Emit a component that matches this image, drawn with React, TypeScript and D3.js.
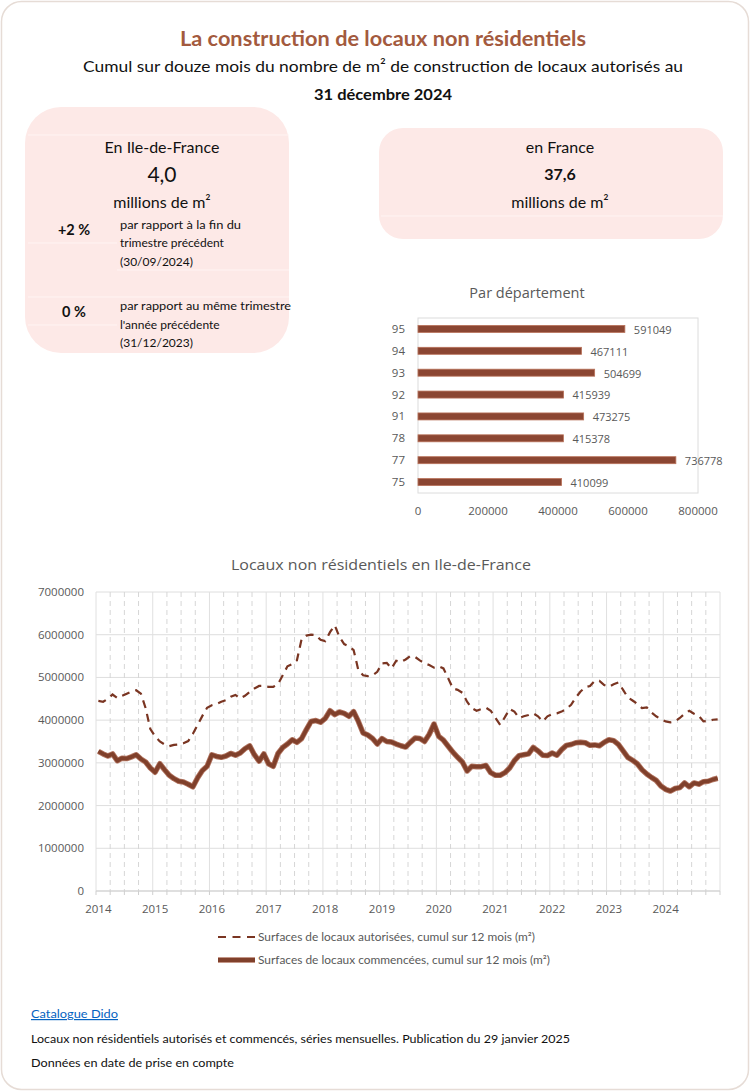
import React from 'react';
import * as d3 from 'd3';

// Page size
const W = 750;
const H = 1091;

// Bar chart: surfaces by département
const departements = ['95', '94', '93', '92', '91', '78', '77', '75'];
const surfacesDept = [591049, 467111, 504699, 415939, 473275, 415378, 736778, 410099];
const barTicks = [0, 200000, 400000, 600000, 800000];

// Line chart: monthly values, Jan 2014 - Dec 2024, in millions of m²
const annees = ['2014', '2015', '2016', '2017', '2018', '2019', '2020', '2021', '2022', '2023', '2024'];
const autorisees = [
  4.45, 4.43, 4.50, 4.60, 4.52, 4.57, 4.62, 4.67, 4.70, 4.62, 4.28, 3.79, // 2014
  3.62, 3.50, 3.43, 3.39, 3.42, 3.43, 3.46, 3.51, 3.68, 3.89, 4.10, 4.29, // 2015
  4.35, 4.38, 4.43, 4.47, 4.55, 4.59, 4.51, 4.57, 4.66, 4.74, 4.80, 4.80, // 2016
  4.78, 4.78, 4.84, 5.05, 5.26, 5.31, 5.40, 5.90, 5.98, 6.00, 5.99, 5.88, // 2017
  5.85, 6.06, 6.22, 5.95, 5.78, 5.73, 5.64, 5.17, 5.05, 5.03, 5.05, 5.13, // 2018
  5.33, 5.34, 5.21, 5.39, 5.36, 5.42, 5.50, 5.48, 5.40, 5.33, 5.29, 5.23, // 2019
  5.26, 5.21, 4.98, 4.74, 4.71, 4.64, 4.43, 4.28, 4.22, 4.26, 4.29, 4.22, // 2020
  4.05, 3.89, 4.07, 4.26, 4.20, 4.05, 4.09, 4.12, 4.16, 4.09, 3.97, 4.09, // 2021
  4.14, 4.16, 4.20, 4.26, 4.36, 4.53, 4.67, 4.77, 4.80, 4.92, 4.92, 4.82, // 2022
  4.78, 4.84, 4.88, 4.71, 4.53, 4.46, 4.38, 4.28, 4.30, 4.18, 4.09, 4.02, // 2023
  3.97, 3.95, 3.97, 4.05, 4.15, 4.22, 4.15, 4.10, 3.97, 3.98, 4.01, 4.02, // 2024
];
const commencees = [
  3.27, 3.21, 3.16, 3.21, 3.05, 3.11, 3.10, 3.14, 3.19, 3.09, 3.02, 2.88, // 2014
  2.78, 2.98, 2.84, 2.71, 2.63, 2.57, 2.55, 2.50, 2.44, 2.65, 2.82, 2.92, // 2015
  3.19, 3.15, 3.13, 3.16, 3.22, 3.18, 3.23, 3.33, 3.40, 3.19, 3.04, 3.21, // 2016
  2.98, 2.92, 3.22, 3.36, 3.44, 3.54, 3.48, 3.57, 3.78, 3.97, 3.99, 3.95, // 2017
  4.04, 4.22, 4.13, 4.19, 4.16, 4.09, 4.20, 3.97, 3.70, 3.65, 3.57, 3.44, // 2018
  3.57, 3.50, 3.49, 3.44, 3.40, 3.37, 3.48, 3.58, 3.57, 3.50, 3.67, 3.91, // 2019
  3.62, 3.53, 3.39, 3.25, 3.13, 3.02, 2.81, 2.92, 2.91, 2.91, 2.94, 2.77, // 2020
  2.71, 2.71, 2.77, 2.88, 3.05, 3.17, 3.19, 3.21, 3.36, 3.28, 3.18, 3.17, // 2021
  3.23, 3.18, 3.31, 3.41, 3.43, 3.47, 3.48, 3.47, 3.41, 3.42, 3.40, 3.48, // 2022
  3.54, 3.52, 3.43, 3.28, 3.13, 3.06, 2.98, 2.84, 2.74, 2.66, 2.59, 2.46, // 2023
  2.38, 2.34, 2.40, 2.42, 2.53, 2.44, 2.53, 2.50, 2.56, 2.57, 2.61, 2.64, // 2024
];
const lineTicks = [0, 1000000, 2000000, 3000000, 4000000, 5000000, 6000000, 7000000];

const BROWN = '#a35a3e';
const GREY = '#595959';
const PINK = '#fde9e7';
const HEAD_FONT = 'Lato, "Liberation Sans", sans-serif';
const CHART_FONT = '"Open Sans", "DejaVu Sans", sans-serif';

export default function App() {
  // bar chart scales
  const xBar = d3.scaleLinear().domain([0, 800000]).range([418, 698]);
  const yBar = d3.scaleBand<string>().domain(departements).range([318, 493])
    .paddingInner(0.68).paddingOuter(0.34);

  // line chart scales
  const nMonths = autorisees.length;
  const xLine = d3.scaleLinear().domain([0, nMonths]).range([96, 720]);
  const yLine = d3.scaleLinear().domain([0, 7000000]).range([891, 592]);
  const line = d3.line<number>()
    .x((_, i) => xLine(i + 0.5))
    .y(v => yLine(v * 1e6));

  const quarters = d3.range(0, nMonths + 1, 3);

  return (
    <div style={{ position: 'absolute', left: 0, top: 0 }}>
      <svg width={W} height={H} viewBox={`0 0 ${W} ${H}`}>
        <rect x={1.5} y={1.5} width={W - 3} height={H - 3} rx={20} fill="#fff" stroke="#e6dcd6" strokeWidth={1.5} />

        {/* header */}
        <text x={383} y={46} textAnchor="middle" fontFamily={HEAD_FONT} fontWeight="bold" fontSize={20}
          fill={BROWN} textLength={406} lengthAdjust="spacingAndGlyphs">La construction de locaux non résidentiels</text>
        <text x={383} y={72} textAnchor="middle" fontFamily={HEAD_FONT} fontSize={16} fill="#111"
          textLength={600} lengthAdjust="spacingAndGlyphs">Cumul sur douze mois du nombre de m² de construction de locaux autorisés au</text>
        <text x={383} y={100} textAnchor="middle" fontFamily={HEAD_FONT} fontWeight="bold" fontSize={16} fill="#111"
          textLength={138} lengthAdjust="spacingAndGlyphs">31 décembre 2024</text>

        {/* left card */}
        <rect x={25} y={107} width={264} height={246} rx={36} fill={PINK} />
        <g stroke="#fff4f3" strokeWidth={1}>
          <line x1={28} x2={289} y1={135} y2={135} />
          <line x1={28} x2={117} y1={243} y2={243} />
          <line x1={117} x2={289} y1={270} y2={270} />
          <line x1={28} x2={289} y1={297} y2={297} />
          <line x1={28} x2={117} y1={325} y2={325} />
        </g>
        <g fontFamily={HEAD_FONT} fill="#111">
          <text x={162} y={153} textAnchor="middle" fontSize={16}>En Ile-de-France</text>
          <text x={162} y={182} textAnchor="middle" fontSize={21}>4,0</text>
          <text x={162} y={208} textAnchor="middle" fontSize={16}>millions de m²</text>
          <text x={74} y={235} textAnchor="middle" fontSize={14.5} fontWeight="bold">+2 %</text>
          <text x={120} y={229} fontSize={12} textLength={121} lengthAdjust="spacingAndGlyphs">par rapport à la fin du</text>
          <text x={120} y={247} fontSize={12}>trimestre précédent</text>
          <text x={120} y={266} fontSize={12}>(30/09/2024)</text>
          <text x={74} y={317} textAnchor="middle" fontSize={14.5} fontWeight="bold">0 %</text>
          <text x={120} y={310} fontSize={12} textLength={171} lengthAdjust="spacingAndGlyphs">par rapport au même trimestre</text>
          <text x={120} y={329} fontSize={12}>l'année précédente</text>
          <text x={120} y={347} fontSize={12}>(31/12/2023)</text>
        </g>

        {/* right card */}
        <rect x={379} y={128} width={344} height={111} rx={24} fill={PINK} />
        <line x1={381} x2={723} y1={216} y2={216} stroke="#fff4f3" />
        <g fontFamily={HEAD_FONT} fill="#111" textAnchor="middle">
          <text x={560} y={153} fontSize={16}>en France</text>
          <text x={560} y={180} fontSize={16} fontWeight="bold">37,6</text>
          <text x={560} y={208} fontSize={16}>millions de m²</text>
        </g>

        {/* bar chart */}
        <text x={527} y={298} textAnchor="middle" fontFamily={CHART_FONT} fontSize={14.5} fill={GREY}>Par département</text>
        <rect x={418} y={318} width={280} height={175} fill="none" stroke="#dcdcdc" />
        {departements.map((d, i) => {
          const y0 = yBar(d) as number;
          return (
            <g key={d}>
              <rect x={xBar(0)} y={y0} width={xBar(surfacesDept[i]) - xBar(0)} height={yBar.bandwidth()}
                fill="#8b4632" stroke="#b9725a" strokeWidth={0.8} />
              <text x={405} y={y0 + yBar.bandwidth() / 2} dy="0.35em" textAnchor="end" fontFamily={CHART_FONT}
                fontSize={11.5} fill={GREY}>{d}</text>
              <text x={xBar(surfacesDept[i]) + 9} y={y0 + yBar.bandwidth() / 2 + 1} dy="0.35em" fontFamily={CHART_FONT}
                fontSize={11} fill={GREY}>{surfacesDept[i]}</text>
            </g>
          );
        })}
        {barTicks.map(t => (
          <text key={t} x={xBar(t)} y={511} dy="0.35em" textAnchor="middle" fontFamily={CHART_FONT}
            fontSize={11.5} fill={GREY}>{t}</text>
        ))}

        {/* line chart */}
        <text x={381} y={570} textAnchor="middle" fontFamily={CHART_FONT} fontSize={14.5} fill={GREY}
          textLength={300} lengthAdjust="spacingAndGlyphs">Locaux non résidentiels en Ile-de-France</text>
        {lineTicks.map(t => (
          <g key={t}>
            <line x1={xLine(0)} x2={xLine(nMonths)} y1={yLine(t)} y2={yLine(t)} stroke="#dedede" strokeWidth={1} />
            <text x={84} y={yLine(t)} dy="0.35em" textAnchor="end" fontFamily={CHART_FONT} fontSize={11.5} fill={GREY}>{t}</text>
          </g>
        ))}
        {quarters.map(q => (
          <g key={q}>
            <line x1={xLine(q)} x2={xLine(q)} y1={yLine(7000000)} y2={yLine(0)}
              stroke={q % 12 === 0 || q === nMonths ? '#e0e0e0' : '#d6d6d6'} strokeWidth={1}
              strokeDasharray={q % 12 === 0 || q === nMonths ? undefined : '5,4'} />
            <line x1={xLine(q)} x2={xLine(q)} y1={yLine(0)} y2={yLine(0) + 4} stroke="#cfcfcf" />
          </g>
        ))}
        <line x1={xLine(0)} x2={xLine(nMonths)} y1={yLine(0)} y2={yLine(0)} stroke="#cfcfcf" strokeWidth={1.2} />
        {annees.map((a, i) => (
          <text key={a} x={xLine(i * 12 + 0.5)} y={909} dy="0.35em" textAnchor="middle" fontFamily={CHART_FONT}
            fontSize={11.5} fill={GREY}>{a}</text>
        ))}

        <path d={line(commencees) || ''} fill="none" stroke="#b17460" strokeWidth={5.5} strokeLinejoin="round" />
        <path d={line(commencees) || ''} fill="none" stroke="#80402b" strokeWidth={3.8} strokeLinejoin="round" />
        <path d={line(autorisees) || ''} fill="none" stroke="#7a3522" strokeWidth={2.2} strokeDasharray="8,6" />

        {/* legend */}
        <line x1={218} x2={255} y1={937} y2={937} stroke="#7a3522" strokeWidth={2.2} strokeDasharray="8,6.5" />
        <text x={258} y={937} dy="0.35em" fontFamily={HEAD_FONT} fontSize={11.5} fill={GREY}
          textLength={277} lengthAdjust="spacingAndGlyphs">Surfaces de locaux autorisées, cumul sur 12 mois (m²)</text>
        <line x1={218} x2={255} y1={960} y2={960} stroke="#b17460" strokeWidth={5.5} />
        <line x1={218} x2={255} y1={960} y2={960} stroke="#80402b" strokeWidth={3.8} />
        <text x={258} y={960} dy="0.35em" fontFamily={HEAD_FONT} fontSize={11.5} fill={GREY}
          textLength={292} lengthAdjust="spacingAndGlyphs">Surfaces de locaux commencées, cumul sur 12 mois (m²)</text>

        {/* footer */}
        <g fontFamily={HEAD_FONT} fontSize={12}>
          <text x={31} y={1018} fill="#0563c1" textDecoration="underline" textLength={87} lengthAdjust="spacingAndGlyphs">Catalogue Dido</text>
          <text x={31} y={1043} fill="#111" textLength={539} lengthAdjust="spacingAndGlyphs">Locaux non résidentiels autorisés et commencés, séries mensuelles. Publication du 29 janvier 2025</text>
          <text x={31} y={1067} fill="#111" textLength={203} lengthAdjust="spacingAndGlyphs">Données en date de prise en compte</text>
        </g>
      </svg>
    </div>
  );
}
